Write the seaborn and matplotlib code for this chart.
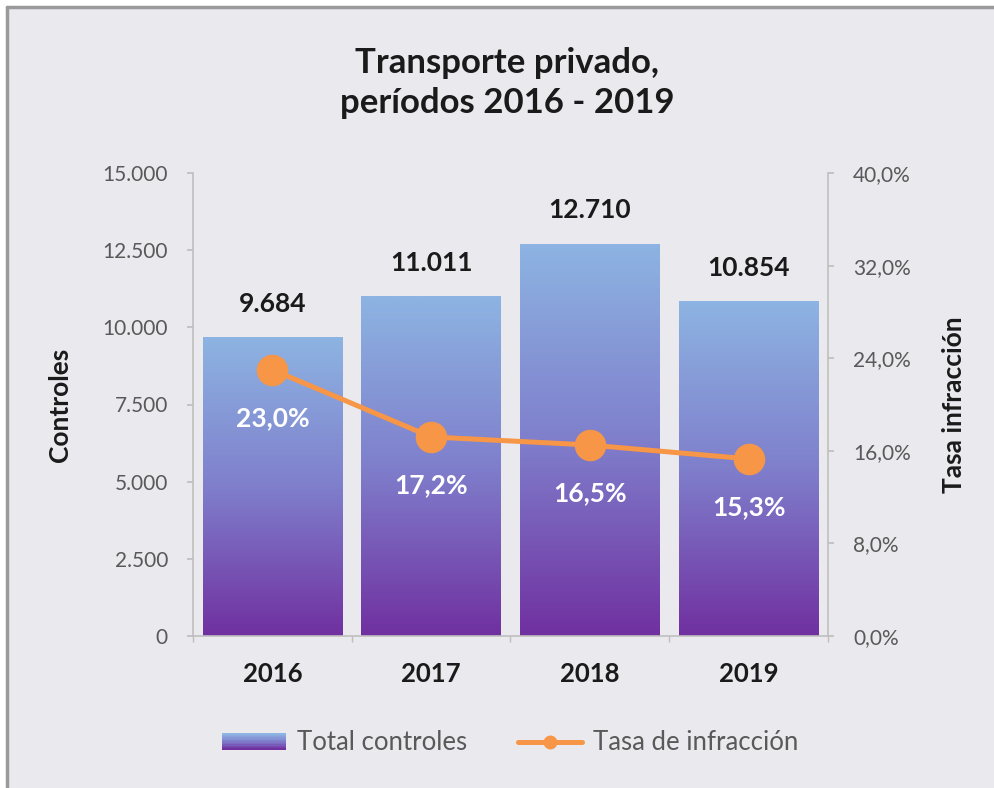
import numpy as np
import pandas as pd
import matplotlib
matplotlib.use("Agg")
import matplotlib.pyplot as plt
import seaborn as sns
from matplotlib.colors import LinearSegmentedColormap
from matplotlib.patches import Rectangle
from matplotlib.legend_handler import HandlerBase
from matplotlib.lines import Line2D

years = ["2016", "2017", "2018", "2019"]
controles = [9684, 11011, 12710, 10854]
tasa = [23.0, 17.2, 16.5, 15.3]
left_ticks = [0, 2500, 5000, 7500, 10000, 12500, 15000]
right_ticks = [0, 8, 16, 24, 32, 40]

BG = "#E9E9EE"
TOP_C = "#8DB4E2"
BOT_C = "#7030A0"
ORANGE = "#F79646"
GRAY = "#595959"
DARK = "#1a1a1a"

sns.set_theme(style="white")
plt.rcParams["font.family"] = ["Lato", "DejaVu Sans"]

fig = plt.figure(figsize=(9.95, 7.88), dpi=100)
fig.patch.set_facecolor("white")
# chart frame
fig.patches.append(Rectangle((7/995, 0), 1, 1 - 7/788, transform=fig.transFigure,
                             facecolor=BG, edgecolor="none", zorder=-10))
fig.lines.append(Line2D([7/995, 7/995], [0, 1 - 7/788], transform=fig.transFigure,
                        color="#9A9A9A", lw=2.5))
fig.lines.append(Line2D([7/995, 1], [1 - 7/788, 1 - 7/788], transform=fig.transFigure,
                        color="#9A9A9A", lw=2.5))

ax = fig.add_axes([193/995, 1 - 636/788, (828 - 193)/995, (636 - 173)/788])
ax.set_facecolor("none")

df = pd.DataFrame({"year": years, "controles": controles})
sns.barplot(data=df, x="year", y="controles", ax=ax, width=0.88,
            color=TOP_C, edgecolor="none", saturation=1)

cmap = LinearSegmentedColormap.from_list("g", [BOT_C, "#7F7FCC", TOP_C])
grad = np.linspace(0, 1, 256).reshape(-1, 1)
for p in ax.patches:
    x0, y0 = p.get_x(), p.get_y()
    w, h = p.get_width(), p.get_height()
    im = ax.imshow(grad, cmap=cmap, origin="lower", aspect="auto",
                   extent=[x0, x0 + w, 0, h], zorder=2)
    im.set_clip_path(p)
    p.set_facecolor("none")
    ax.annotate(f"{int(h):,}".replace(",", "."), (x0 + w / 2, h),
                xytext=(0, 24), textcoords="offset points", ha="center", va="center",
                fontsize=19, fontweight="bold", color=DARK, zorder=5)

ax.set_xlim(-0.5, 3.5)
ax.set_ylim(0, 15000)
ax.set_yticks(left_ticks)
ax.set_yticklabels([f"{v:,}".replace(",", ".") for v in left_ticks], fontsize=15, color=GRAY)
ax.set_xticks(range(4))
ax.set_xticklabels(years, fontsize=18.5, fontweight="bold", color=DARK)
ax.set_xticks([-0.5, 0.5, 1.5, 2.5, 3.5], minor=True)
ax.tick_params(axis="x", which="major", length=0, pad=19)
ax.tick_params(axis="x", which="minor", length=4, color="#BFBFBF", direction="out", bottom=True)
ax.tick_params(axis="y", length=4, color="#BFBFBF", direction="out", left=True, pad=14)
ax.set_xlabel("")
ax.set_ylabel("Controles", fontsize=19, fontweight="bold", color=DARK)
ax.yaxis.set_label_coords((72 - 193) / 635, 0.5)
for s in ["top", "right"]:
    ax.spines[s].set_visible(False)
for s in ["left", "bottom"]:
    ax.spines[s].set_color("#BFBFBF")
    ax.spines[s].set_linewidth(1.2)

ax2 = ax.twinx()
ax2.set_facecolor("none")
sns.pointplot(x=years, y=tasa, ax=ax2, color=ORANGE, markers="o",
              markersize=20, linewidth=3.6)
ax2.set_xlim(-0.5, 3.5)
ax2.set_ylim(0, 40)
ax2.set_yticks(right_ticks)
ax2.set_yticklabels([f"{v:.1f}%".replace(".", ",") for v in right_ticks], fontsize=15, color=GRAY)
ax2.tick_params(axis="y", length=4, color="#BFBFBF", direction="out", right=True, pad=14)
ax2.set_ylabel("Tasa infracción", fontsize=19, fontweight="bold", color=DARK)
ax2.yaxis.set_label_coords((942 - 193) / 635, 0.5)
for s in ["top", "left", "bottom"]:
    ax2.spines[s].set_visible(False)
ax2.spines["right"].set_color("#BFBFBF")
ax2.spines["right"].set_linewidth(1.2)
for i, v in enumerate(tasa):
    ax2.annotate(f"{v:.1f}%".replace(".", ","), (i, v), xytext=(0, -35),
                 textcoords="offset points", ha="center", va="center",
                 fontsize=19, fontweight="bold", color="white", zorder=6)

fig.text(507/995, 1 - 83/788, "Transporte privado,\nperíodos 2016 - 2019",
         ha="center", va="center", fontsize=25, fontweight="bold", color=DARK,
         linespacing=1.3)


class GradientHandler(HandlerBase):
    def create_artists(self, legend, orig_handle, xdescent, ydescent, width, height, fontsize, trans):
        n = 12
        arts = []
        for k in range(n):
            c = cmap(k / (n - 1))
            r = Rectangle((-xdescent, -ydescent + height * k / n), width, height / n + 0.2,
                          facecolor=c, edgecolor="none", transform=trans)
            arts.append(r)
        return arts


bar_handle = Rectangle((0, 0), 1, 1)
line_handle = Line2D([0], [0], color=ORANGE, lw=3.6, marker="o", markersize=9)
leg = fig.legend([bar_handle, line_handle], ["Total controles", "Tasa de infracción"],
                 handler_map={Rectangle: GradientHandler()},
                 loc="center", bbox_to_anchor=(510/995, 1 - 743/788), ncol=2,
                 frameon=False, fontsize=18.5, handlelength=2.5, handleheight=0.6,
                 handletextpad=0.4, columnspacing=2.0)
for t in leg.get_texts():
    t.set_color(GRAY)

fig.savefig("out.png", dpi=100)
